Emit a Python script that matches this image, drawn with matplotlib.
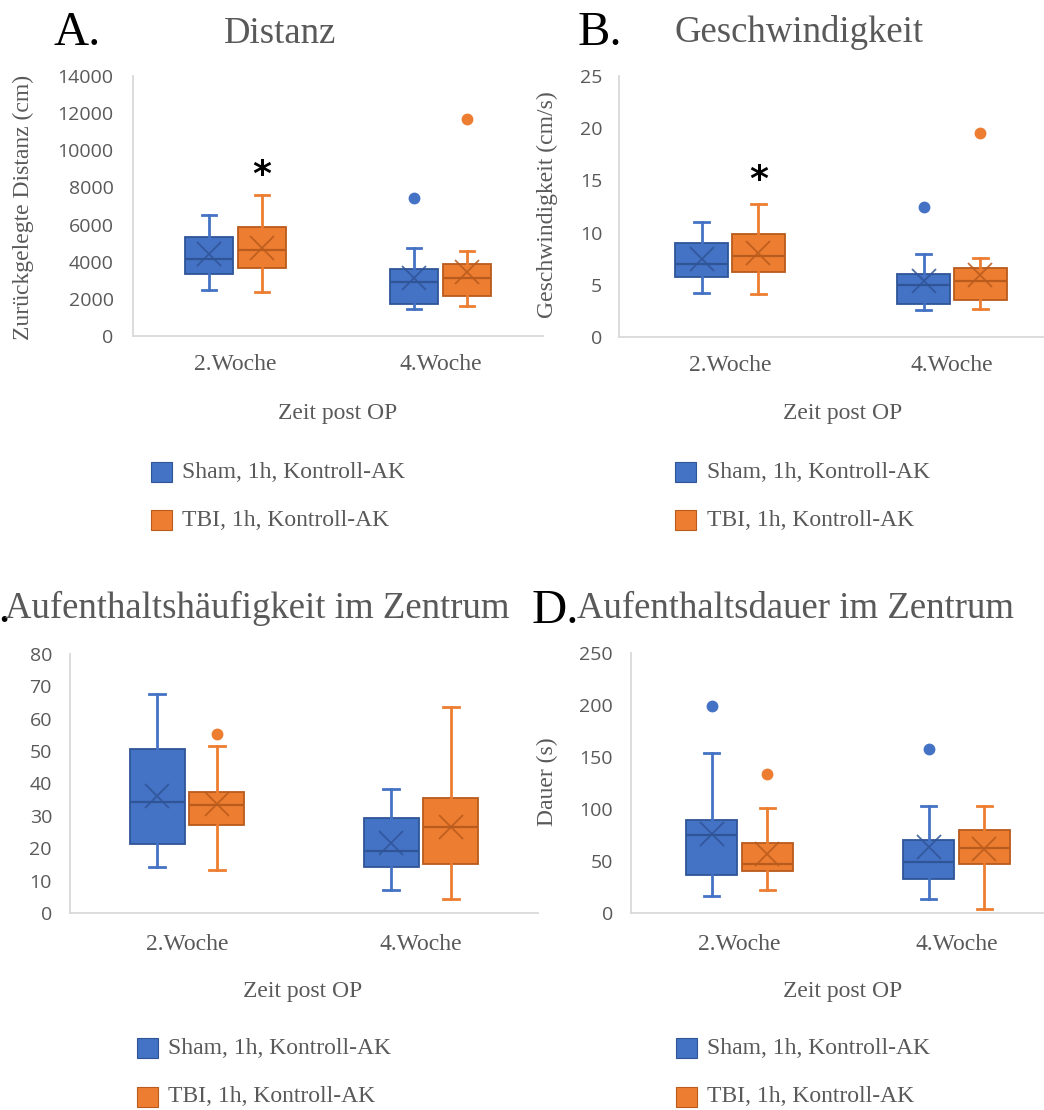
import matplotlib
matplotlib.use("Agg")
import matplotlib.pyplot as plt
from matplotlib.patches import Rectangle

# ---------------- data ----------------
categories = ["2.Woche", "4.Woche"]
series_names = ["Sham, 1h, Kontroll-AK", "TBI, 1h, Kontroll-AK"]

# Panel A: Distanz (cm)
A_sham_whislo = [2480, 1440]
A_sham_q1 = [3330, 1750]
A_sham_med = [4120, 2920]
A_sham_q3 = [5350, 3620]
A_sham_whishi = [6540, 4720]
A_sham_mean = [4430, 3100]
A_sham_fliers = [[], [7440]]
A_tbi_whislo = [2390, 1620]
A_tbi_q1 = [3660, 2130]
A_tbi_med = [4650, 3100]
A_tbi_q3 = [5855, 3870]
A_tbi_whishi = [7575, 4560]
A_tbi_mean = [4750, 3420]
A_tbi_fliers = [[], [11690]]
A_star = 8650

# Panel B: Geschwindigkeit (cm/s)
B_sham_whislo = [4.22, 2.56]
B_sham_q1 = [5.75, 3.13]
B_sham_med = [7.03, 5.02]
B_sham_q3 = [9.0, 6.07]
B_sham_whishi = [11.03, 7.93]
B_sham_mean = [7.5, 5.37]
B_sham_fliers = [[], [12.47]]
B_tbi_whislo = [4.1, 2.72]
B_tbi_q1 = [6.2, 3.58]
B_tbi_med = [7.8, 5.34]
B_tbi_q3 = [9.9, 6.59]
B_tbi_whishi = [12.7, 7.6]
B_tbi_mean = [8.05, 5.9]
B_tbi_fliers = [[], [19.53]]
B_star = 15.0

# Panel C: Anzahl der Besuche
C_sham_whislo = [14.2, 7.2]
C_sham_q1 = [21.4, 14.2]
C_sham_med = [34.4, 19.0]
C_sham_q3 = [50.7, 29.4]
C_sham_whishi = [67.6, 38.3]
C_sham_mean = [36.2, 21.6]
C_sham_fliers = [[], []]
C_tbi_whislo = [13.2, 4.3]
C_tbi_q1 = [27.2, 15.1]
C_tbi_med = [33.4, 26.6]
C_tbi_q3 = [37.4, 35.4]
C_tbi_whishi = [51.7, 63.6]
C_tbi_mean = [33.7, 26.6]
C_tbi_fliers = [[55.3], []]

# Panel D: Dauer (s)
D_sham_whislo = [16.7, 13.5]
D_sham_q1 = [36.2, 33.0]
D_sham_med = [75.0, 48.7]
D_sham_q3 = [89.1, 70.5]
D_sham_whishi = [153.5, 102.6]
D_sham_mean = [76.3, 63.1]
D_sham_fliers = [[198.7], [157.4]]
D_tbi_whislo = [22.4, 3.8]
D_tbi_q1 = [40.7, 47.1]
D_tbi_med = [47.1, 62.5]
D_tbi_q3 = [67.3, 79.5]
D_tbi_whishi = [101.0, 102.6]
D_tbi_mean = [56.7, 61.5]
D_tbi_fliers = [[134.0], []]

A_yticks = [0, 2000, 4000, 6000, 8000, 10000, 12000, 14000]
B_yticks = [0, 5, 10, 15, 20, 25]
C_yticks = [0, 10, 20, 30, 40, 50, 60, 70, 80]
D_yticks = [0, 50, 100, 150, 200, 250]

# ---------------- style ----------------
W, H = 1044, 1110
BLUE, ORANGE = "#4472C4", "#ED7D31"
BLUE_D, ORANGE_D = "#2F5597", "#B95B1C"
GRAY = "#595959"
SPINE = "#D9D9D9"
SERIF = ["Liberation Serif", "DejaVu Serif"]
SANS = ["Open Sans", "DejaVu Sans"]

fig = plt.figure(figsize=(W / 100, H / 100), dpi=100)
fig.patch.set_facecolor("white")


def fx(px):
    return px / W


def fy(py):
    return 1 - py / H


def add_ax(x0, y0, x1, y1):
    return fig.add_axes([fx(x0), fy(y1), (x1 - x0) / W, (y1 - y0) / H])


def ftext(x, y, s, **kw):
    kw.setdefault("family", SERIF)
    kw.setdefault("color", GRAY)
    fig.text(fx(x), fy(y), s, **kw)


def stats(whislo, q1, med, q3, whishi, mean, fliers):
    out = []
    for i in range(len(categories)):
        out.append(dict(whislo=whislo[i], q1=q1[i], med=med[i], q3=q3[i],
                        whishi=whishi[i], mean=mean[i], fliers=fliers[i],
                        label=categories[i]))
    return out


def draw_panel(ax, sham, tbi, ymax, yticks, ytick_pad, xtick_pad):
    xs = [0.5, 1.5]
    off = 0.128
    bw = 0.235
    for st, col, dcol, sgn in [(sham, BLUE, BLUE_D, -1), (tbi, ORANGE, ORANGE_D, 1)]:
        pos = [x + sgn * off for x in xs]
        ax.bxp(st, positions=pos, widths=bw, showmeans=True, patch_artist=True,
               capwidths=0.07, manage_ticks=False,
               boxprops=dict(facecolor=col, edgecolor=dcol, linewidth=1.3),
               medianprops=dict(color=dcol, linewidth=1.6),
               whiskerprops=dict(color=col, linewidth=2.0),
               capprops=dict(color=col, linewidth=2.0),
               meanprops=dict(marker="x", markersize=17, markeredgecolor=dcol,
                              markeredgewidth=1.3, alpha=0.85),
               flierprops=dict(marker="o", markersize=7.5, markerfacecolor=col,
                               markeredgecolor=col))
    ax.set_xlim(0, 2)
    ax.set_ylim(0, ymax)
    ax.set_yticks(yticks)
    ax.set_yticklabels([str(t) for t in yticks], family=SANS, fontsize=14, color=GRAY)
    ax.set_xticks(xs)
    ax.set_xticklabels(categories, family=SERIF, fontsize=17, color=GRAY)
    ax.tick_params(axis="y", length=0, pad=ytick_pad)
    ax.tick_params(axis="x", length=0, pad=xtick_pad)
    for s in ["top", "right"]:
        ax.spines[s].set_visible(False)
    for s in ["left", "bottom"]:
        ax.spines[s].set_color(SPINE)
        ax.spines[s].set_linewidth(1.3)
    ax.set_facecolor("none")


def legend(px, ty_sham, ty_tbi, tx):
    for yy, col, dcol, name in [(ty_sham, BLUE, BLUE_D, series_names[0]),
                                (ty_tbi, ORANGE, ORANGE_D, series_names[1])]:
        fig.patches.append(Rectangle((fx(px), fy(yy + 10)), 21 / W, 20 / H,
                                     transform=fig.transFigure, facecolor=col,
                                     edgecolor=dcol, linewidth=0.8))
        ftext(tx, yy, name, fontsize=17, ha="left", va="center")


# ---------------- Panel A ----------------
axA = add_ax(133, 76, 543, 336)
draw_panel(axA,
           stats(A_sham_whislo, A_sham_q1, A_sham_med, A_sham_q3, A_sham_whishi, A_sham_mean, A_sham_fliers),
           stats(A_tbi_whislo, A_tbi_q1, A_tbi_med, A_tbi_q3, A_tbi_whishi, A_tbi_mean, A_tbi_fliers),
           14000, A_yticks, 14, 13)
axA.text(0.5 + 0.128, A_star, "*", ha="center", va="center", fontsize=26,
         fontweight="bold", family=["DejaVu Sans"], color="black")

# ---------------- Panel B ----------------
axB = add_ax(619, 76, 1063, 337)
draw_panel(axB,
           stats(B_sham_whislo, B_sham_q1, B_sham_med, B_sham_q3, B_sham_whishi, B_sham_mean, B_sham_fliers),
           stats(B_tbi_whislo, B_tbi_q1, B_tbi_med, B_tbi_q3, B_tbi_whishi, B_tbi_mean, B_tbi_fliers),
           25, B_yticks, 12, 13)
axB.text(0.5 + 0.128, B_star, "*", ha="center", va="center", fontsize=26,
         fontweight="bold", family=["DejaVu Sans"], color="black")

# ---------------- Panel C ----------------
axC = add_ax(70, 654, 538, 913)
draw_panel(axC,
           stats(C_sham_whislo, C_sham_q1, C_sham_med, C_sham_q3, C_sham_whishi, C_sham_mean, C_sham_fliers),
           stats(C_tbi_whislo, C_tbi_q1, C_tbi_med, C_tbi_q3, C_tbi_whishi, C_tbi_mean, C_tbi_fliers),
           80, C_yticks, 13, 15)

# ---------------- Panel D ----------------
axD = add_ax(631, 653, 1065, 913)
draw_panel(axD,
           stats(D_sham_whislo, D_sham_q1, D_sham_med, D_sham_q3, D_sham_whishi, D_sham_mean, D_sham_fliers),
           stats(D_tbi_whislo, D_tbi_q1, D_tbi_med, D_tbi_q3, D_tbi_whishi, D_tbi_mean, D_tbi_fliers),
           250, D_yticks, 13, 15)

# ---------------- titles ----------------
ftext(53, 45, "A.", fontsize=35, color="black", ha="left", va="baseline")
ftext(280, 43, "Distanz", fontsize=26.5, ha="center", va="baseline")
ftext(578, 45, "B.", fontsize=35, color="black", ha="left", va="baseline")
ftext(799, 42, "Geschwindigkeit", fontsize=26.5, ha="center", va="baseline")
ftext(-34, 622, "C.", fontsize=35, color="black", ha="left", va="baseline")
ftext(5, 618, "Aufenthaltshäufigkeit im Zentrum", fontsize=26.5, ha="left", va="baseline")
ftext(532, 623, "D.", fontsize=35, color="black", ha="left", va="baseline")
ftext(577, 618, "Aufenthaltsdauer im Zentrum", fontsize=26.5, ha="left", va="baseline")

# ---------------- axis titles ----------------
ftext(23, 207, "Zurückgelegte Distanz (cm)", fontsize=17, rotation=90, ha="center", va="center")
ftext(547, 205, "Geschwindigkeit (cm/s)", fontsize=17, rotation=90, ha="center", va="center")
ftext(-6, 785, "Anzahl der Besuche", fontsize=17, rotation=90, ha="center", va="center")
ftext(547, 782, "Dauer (s)", fontsize=17, rotation=90, ha="center", va="center")

ftext(338, 413, "Zeit post OP", fontsize=17, ha="center", va="center")
ftext(843, 413, "Zeit post OP", fontsize=17, ha="center", va="center")
ftext(303, 992, "Zeit post OP", fontsize=17, ha="center", va="center")
ftext(843, 992, "Zeit post OP", fontsize=17, ha="center", va="center")

# ---------------- legends ----------------
legend(151, 472, 520, 182)
legend(675, 472, 520, 707)
legend(137, 1048, 1097, 168)
legend(676, 1048, 1097, 707)

fig.savefig("out.png", dpi=100, facecolor="white")
